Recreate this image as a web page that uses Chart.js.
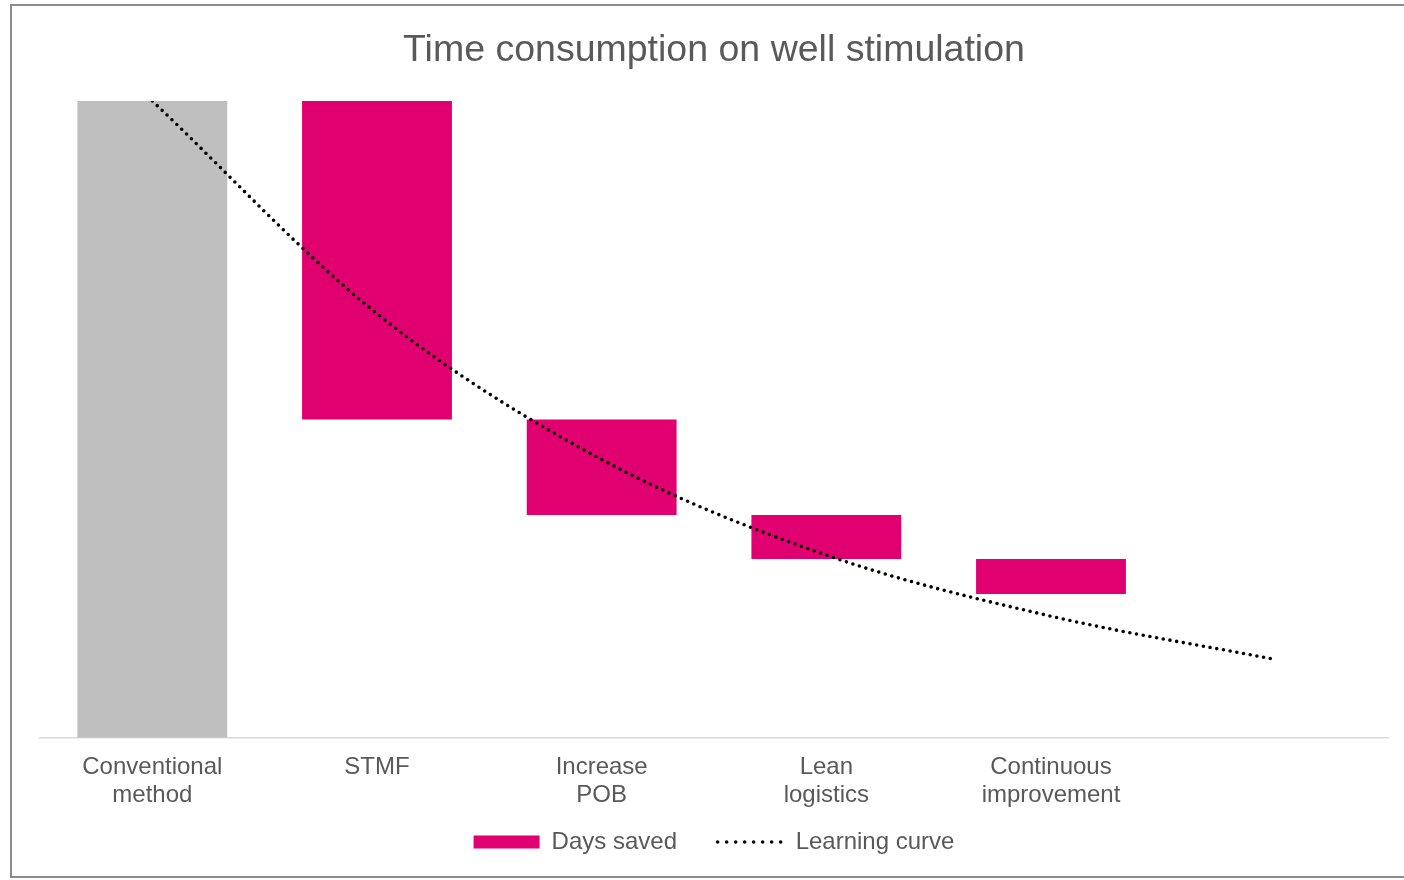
<!DOCTYPE html>
<html>
<head>
<meta charset="utf-8">
<script src="https://cdn.jsdelivr.net/npm/chart.js@4.4.1/dist/chart.umd.min.js"></script>
<style>
  html, body { margin: 0; padding: 0; background: #fff; overflow: hidden; }
  #frame { position: absolute; left: 10px; top: 4px; width: 1500px; height: 874px;
           border: 2px solid #8c8c8c; box-sizing: border-box; pointer-events: none; }
  #wrap { position: absolute; left: 0; top: 0; width: 1404px; height: 880px; }
</style>
</head>
<body>
<div id="frame"></div>
<div id="wrap"><canvas id="myChart"></canvas></div>
<script>
const categories = [["Conventional", "method"], "STMF", ["Increase", "POB"], ["Lean", "logistics"], ["Continuous", "improvement"], ""];
const baseline = [[0, 100], null, null, null, null, null];
const daysSaved = [null, [50, 100], [35, 50], [28.1, 35], [22.6, 28.1], null];
const learningCurve = [100, 66.6, 43.7, 28.7, 19.1, 12.3];

const PINK = "#E0006F";
const GREY = "#BFBFBF";
const TEXT = "#595959";

new Chart(document.getElementById("myChart"), {
  type: "bar",
  data: {
    labels: categories,
    datasets: [
      {
        type: "line",
        label: "Learning curve",
        data: learningCurve,
        borderColor: "#000",
        borderWidth: 3.6,
        borderDash: [0, 6.8],
        borderCapStyle: "round",
        pointRadius: 0,
        fill: false,
        cubicInterpolationMode: "monotone",
        order: 0,
      },
      {
        label: "Days saved",
        data: daysSaved,
        backgroundColor: PINK,
        grouped: false,
        categoryPercentage: 1,
        barPercentage: 0.667,
        order: 1,
      },
      {
        label: "Conventional method",
        data: baseline,
        backgroundColor: GREY,
        grouped: false,
        categoryPercentage: 1,
        barPercentage: 0.667,
        order: 2,
      },
    ],
  },
  options: {
    responsive: true,
    maintainAspectRatio: false,
    animation: false,
    layout: { padding: { left: 40, right: 16, top: 0, bottom: 16 } },
    plugins: {
      title: {
        display: true,
        text: "Time consumption on well stimulation",
        color: TEXT,
        font: { family: "Liberation Sans", size: 37.5, weight: "normal" },
        padding: { top: 28, bottom: 28 },
      },
      tooltip: { enabled: false },
      legend: {
        position: "bottom",
        labels: {
          usePointStyle: true,
          pointStyleWidth: 66,
          boxHeight: 13,
          padding: 14,
          color: TEXT,
          font: { family: "Liberation Sans", size: 24 },
          // trailing spaces widen the gap between the two legend items
          generateLabels: () => [
            { text: "Days saved    ", fillStyle: PINK, strokeStyle: PINK, lineWidth: 0, pointStyle: "rect", fontColor: TEXT, datasetIndex: 1 },
            { text: "Learning curve", fillStyle: "rgba(0,0,0,0)", strokeStyle: "#000", lineWidth: 3.6, lineDash: [0, 9], lineCap: "round", pointStyle: "line", fontColor: TEXT, datasetIndex: 0 },
          ],
        },
      },
    },
    scales: {
      x: {
        grid: { display: false },
        border: { display: true, color: "#D9D9D9", width: 1.5 },
        ticks: {
          color: TEXT,
          font: { family: "Liberation Sans", size: 24, lineHeight: 1.17 },
          padding: 7,
          maxRotation: 0,
          autoSkip: false,
        },
      },
      y: {
        display: false,
        min: 0,
        max: 100,
      },
    },
  },
});
</script>
</body>
</html>
